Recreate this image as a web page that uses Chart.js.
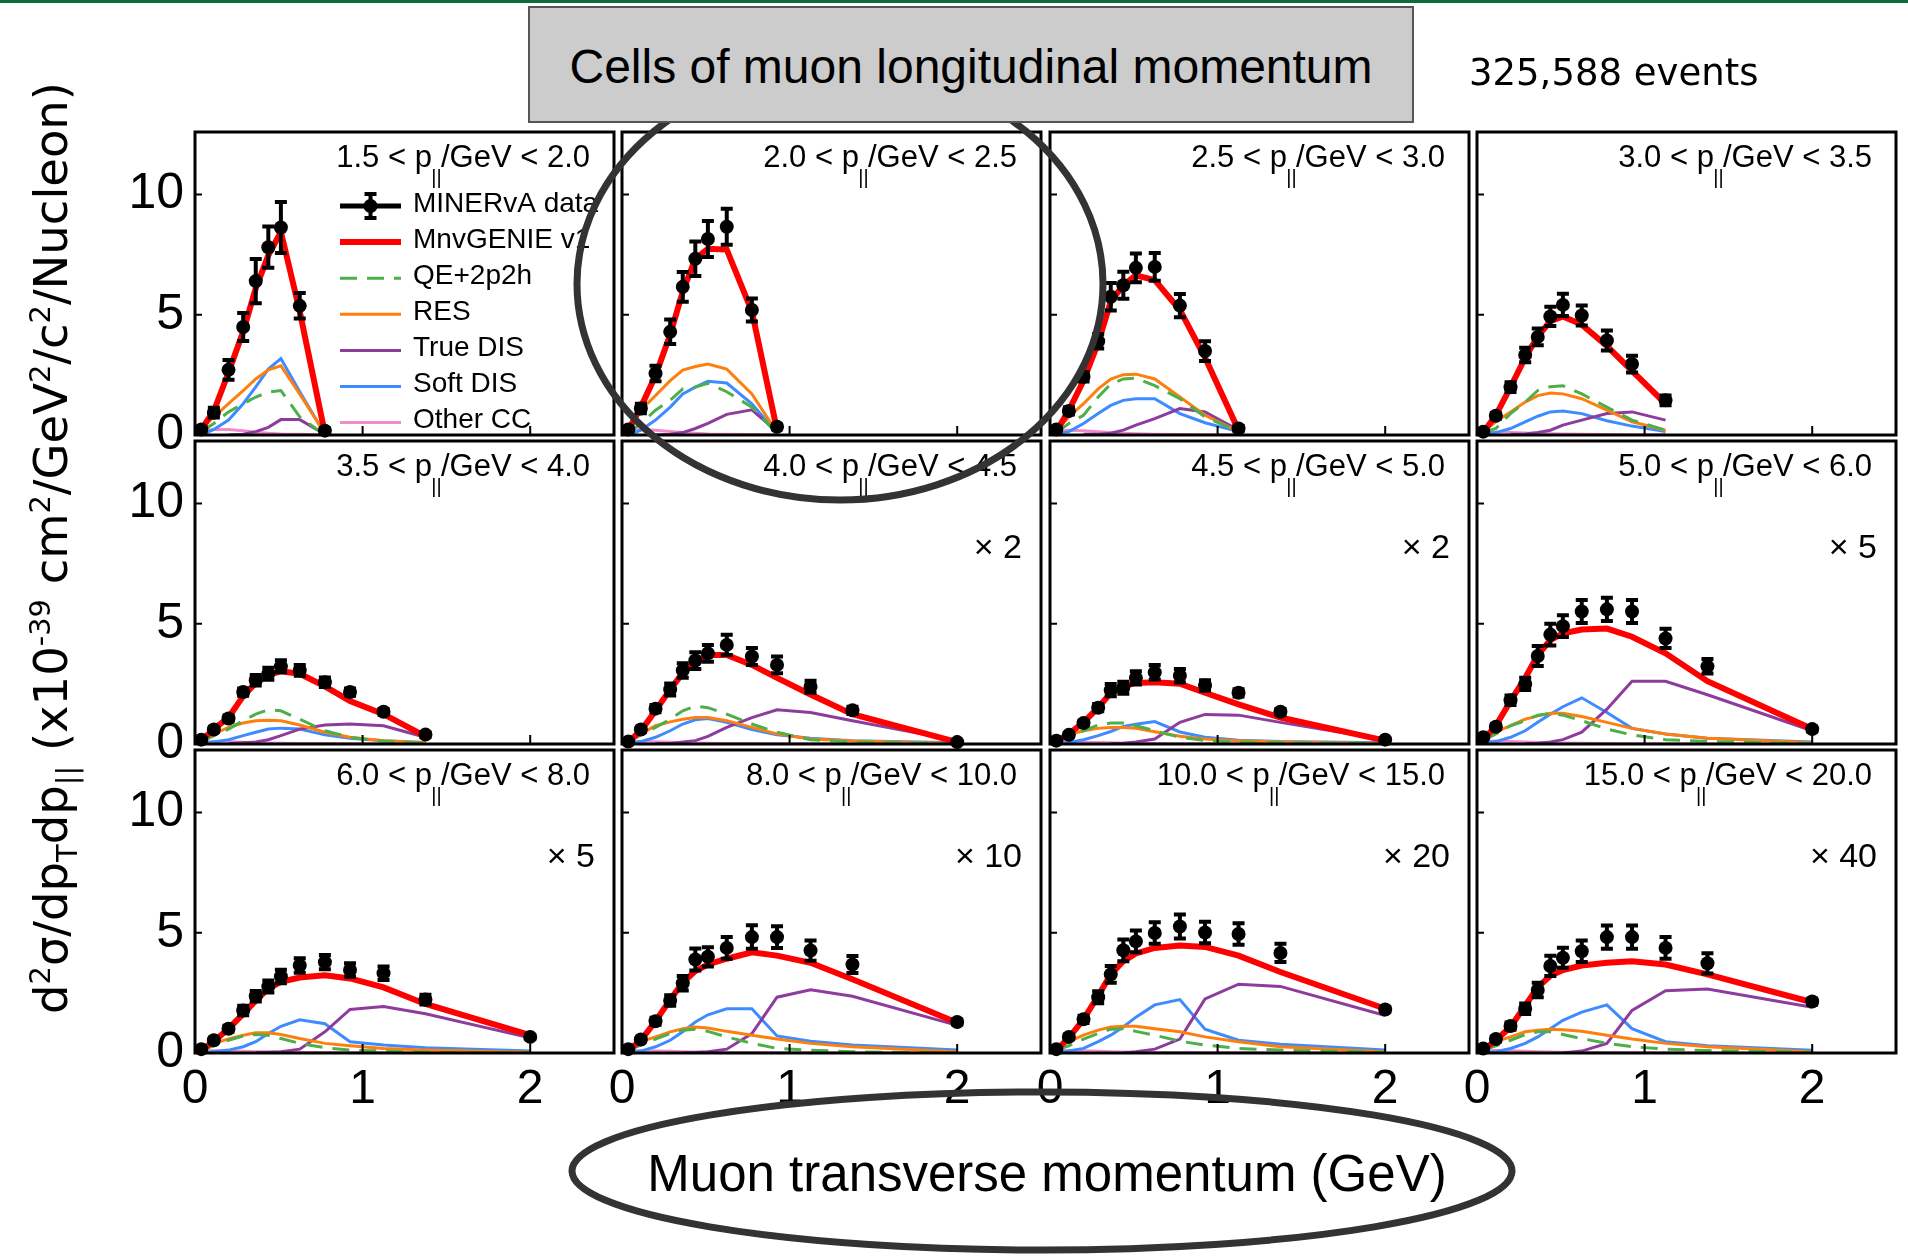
<!DOCTYPE html>
<html>
<head>
<meta charset="utf-8">
<title>MINERvA cross section in cells of muon longitudinal momentum</title>
<script src="https://cdn.jsdelivr.net/npm/chart.js@4.4.1/dist/chart.umd.min.js"></script>
<style>
  html, body { margin: 0; padding: 0; background: #fff; }
  body { width: 1908px; height: 1256px; position: relative; overflow: hidden; }
  #topline { position: absolute; left: 0; top: 0; width: 1908px; height: 3px; background: #0d6b3c; }
  canvas.panel { position: absolute; z-index: 1; }
  #rings { position: absolute; left: 0; top: 0; z-index: 2; }
  #titlebox { position: absolute; left: 528px; top: 6px; width: 882px; height: 113px;
              background: #cccccc; border: 2px solid #555; z-index: 3; }
  #titlebox div { position: absolute; left: 0; top: 35px; width: 100%; text-align: center;
                  font: 48px/48px "Liberation Sans", Arial, sans-serif; color: #000; }
  #events { position: absolute; left: 1469px; top: 54px; z-index: 3;
            font: 37px/37px "DejaVu Sans", sans-serif; color: #000; white-space: nowrap; }
  #xtitle { position: absolute; left: 1047px; top: 1148px; transform: translateX(-50%); z-index: 3;
            font: 51px/51px "Liberation Sans", Arial, sans-serif; color: #000; white-space: nowrap; }
  #ytitle { position: absolute; left: 0; top: 0; transform-origin: 0 0; z-index: 3;
            font: 46.5px/46.5px "DejaVu Sans", sans-serif; color: #000; white-space: nowrap; }
  #ytitle sup { font-size: 0.62em; vertical-align: 0.6em; line-height: 0; }
  #ytitle sub { font-size: 0.62em; vertical-align: -0.35em; line-height: 0; }
</style>
</head>
<body>
<div id="topline"></div>
<svg id="rings" width="1908" height="1256">
  <ellipse cx="840" cy="284" rx="263" ry="216" fill="none" stroke="#333" stroke-width="7"/>
  <ellipse cx="1042" cy="1171" rx="470" ry="79" fill="none" stroke="#333" stroke-width="7"/>
</svg>
<div id="titlebox"><div>Cells of muon longitudinal momentum</div></div>
<div id="events">325,588 events</div>
<div id="xtitle">Muon transverse momentum (GeV)</div>
<div id="ytitle">d<sup>2</sup>σ/dp<sub>T</sub>dp<sub>||</sub> (x10<sup>-39</sup> cm<sup>2</sup>/GeV<sup>2</sup>/c<sup>2</sup>/Nucleon)</div>

<script>
// muon pT bin centres (GeV), shared by every cell
const xCenters = [0.0375, 0.1125, 0.2, 0.2875, 0.3625, 0.4375, 0.5125, 0.625, 0.775, 0.925, 1.125, 1.375, 2.0];

// p|| cell edges and the factor each cell is scaled by
const pLow  = ["1.5", "2.0", "2.5", "3.0", "3.5", "4.0", "4.5", "5.0", "6.0", "8.0", "10.0", "15.0"];
const pHigh = ["2.0", "2.5", "3.0", "3.5", "4.0", "4.5", "5.0", "6.0", "8.0", "10.0", "15.0", "20.0"];
const scaleFactor = [null, null, null, null, null, 2, 2, 5, 5, 10, 20, 40];

const xTicks = [0, 1, 2];
const yTicks = [0, 5, 10];

const seriesNames = ["MINERvA data", "MnvGENIE v1", "QE+2p2h", "RES", "True DIS", "Soft DIS", "Other CC"];

// measured cross section and its errors, one row per cell
const dataVals = [
  [0.23, 0.93, 2.71, 4.49, 6.4, 7.81, 8.63, 5.37, 0.18],
  [0.23, 1.1, 2.56, 4.29, 6.16, 7.33, 8.15, 8.66, 5.2, 0.34],
  [0.23, 1.0, 2.42, 3.9, 5.75, 6.23, 6.95, 6.99, 5.38, 3.49, 0.27],
  [0.14, 0.8, 1.99, 3.33, 4.08, 4.93, 5.41, 4.97, 3.93, 2.95, 1.44],
  [0.18, 0.6, 1.06, 2.16, 2.65, 2.92, 3.23, 3.06, 2.57, 2.16, 1.34, 0.39],
  [0.1, 0.6, 1.47, 2.27, 3.06, 3.47, 3.77, 4.12, 3.64, 3.29, 2.38, 1.4, 0.08],
  [0.14, 0.38, 0.87, 1.51, 2.24, 2.34, 2.75, 2.98, 2.84, 2.43, 2.13, 1.34, 0.18],
  [0.28, 0.72, 1.82, 2.5, 3.66, 4.55, 4.9, 5.51, 5.6, 5.51, 4.39, 3.23, 0.62],
  [0.16, 0.53, 1.01, 1.77, 2.36, 2.77, 3.18, 3.64, 3.78, 3.45, 3.32, 2.22, 0.67],
  [0.16, 0.56, 1.32, 2.18, 2.9, 3.89, 4.0, 4.37, 4.82, 4.82, 4.26, 3.68, 1.29],
  [0.16, 0.67, 1.4, 2.32, 3.27, 4.27, 4.64, 4.99, 5.26, 5.01, 4.95, 4.16, 1.81],
  [0.19, 0.58, 1.12, 1.84, 2.62, 3.62, 3.96, 4.23, 4.82, 4.82, 4.37, 3.73, 2.14]
];
const dataErr = [
  [0.1, 0.2, 0.41, 0.58, 0.92, 0.86, 1.06, 0.53, 0.1],
  [0.1, 0.2, 0.32, 0.51, 0.62, 0.72, 0.75, 0.75, 0.48, 0.1],
  [0.1, 0.15, 0.2, 0.3, 0.57, 0.56, 0.6, 0.58, 0.48, 0.41, 0.1],
  [0.08, 0.12, 0.2, 0.3, 0.35, 0.4, 0.46, 0.42, 0.42, 0.35, 0.2],
  [0.06, 0.1, 0.12, 0.15, 0.22, 0.25, 0.25, 0.22, 0.2, 0.15, 0.12, 0.1],
  [0.05, 0.1, 0.15, 0.25, 0.3, 0.35, 0.35, 0.42, 0.35, 0.35, 0.25, 0.15, 0.05],
  [0.05, 0.08, 0.1, 0.15, 0.25, 0.25, 0.28, 0.3, 0.28, 0.22, 0.15, 0.12, 0.05],
  [0.08, 0.1, 0.2, 0.25, 0.42, 0.45, 0.45, 0.48, 0.48, 0.48, 0.4, 0.3, 0.1],
  [0.05, 0.08, 0.12, 0.2, 0.22, 0.25, 0.28, 0.3, 0.3, 0.28, 0.28, 0.2, 0.08],
  [0.05, 0.08, 0.15, 0.22, 0.3, 0.46, 0.4, 0.45, 0.49, 0.45, 0.42, 0.35, 0.1],
  [0.05, 0.1, 0.15, 0.25, 0.35, 0.45, 0.45, 0.45, 0.5, 0.45, 0.45, 0.38, 0.1],
  [0.05, 0.1, 0.15, 0.22, 0.3, 0.42, 0.42, 0.45, 0.48, 0.48, 0.45, 0.42, 0.12]
];

// MnvGENIE v1 total and its pieces
const totalVals = [
  [0.23, 1.0, 2.6, 4.3, 6.1, 7.47, 8.45, 5.14, 0.07],
  [0.2, 1.16, 2.47, 4.18, 5.96, 7.33, 7.74, 7.71, 5.14, 0.2],
  [0.14, 1.03, 2.26, 3.84, 5.55, 6.23, 6.64, 6.44, 5.2, 3.22, 0.2],
  [0.1, 0.82, 1.99, 3.22, 4.1, 4.73, 4.93, 4.59, 3.7, 2.67, 1.3],
  [0.14, 0.62, 1.1, 1.99, 2.54, 2.88, 3.02, 2.92, 2.4, 1.79, 1.24, 0.32],
  [0.08, 0.55, 1.38, 2.27, 2.95, 3.43, 3.7, 3.7, 3.29, 2.75, 2.06, 1.24, 0.08],
  [0.1, 0.42, 0.9, 1.51, 2.13, 2.4, 2.54, 2.57, 2.51, 2.13, 1.65, 1.1, 0.14],
  [0.18, 0.76, 1.79, 2.75, 3.7, 4.32, 4.6, 4.76, 4.8, 4.46, 3.77, 2.61, 0.62],
  [0.12, 0.49, 1.01, 1.63, 2.18, 2.68, 2.96, 3.14, 3.23, 3.1, 2.73, 2.04, 0.74],
  [0.12, 0.53, 1.32, 2.22, 2.93, 3.41, 3.68, 3.92, 4.19, 4.05, 3.75, 3.07, 1.26],
  [0.12, 0.63, 1.4, 2.38, 3.27, 3.82, 4.14, 4.37, 4.47, 4.41, 4.05, 3.37, 1.84],
  [0.12, 0.53, 1.08, 1.97, 2.73, 3.21, 3.45, 3.64, 3.75, 3.81, 3.68, 3.27, 2.11]
];
const qeVals = [
  [0.14, 0.48, 0.96, 1.3, 1.58, 1.78, 1.85, 0.75, 0.0],
  [0.07, 0.48, 1.03, 1.44, 1.92, 1.99, 2.15, 1.8, 1.16, 0.07],
  [0.1, 0.48, 0.82, 1.58, 2.12, 2.33, 2.37, 2.05, 1.51, 0.75, 0.14],
  [0.1, 0.27, 0.89, 1.37, 1.85, 2.01, 2.05, 1.71, 1.16, 0.62, 0.2],
  [0.1, 0.35, 0.62, 0.97, 1.24, 1.42, 1.38, 1.03, 0.55, 0.28, 0.1, 0.03],
  [0.1, 0.38, 0.69, 1.03, 1.38, 1.58, 1.51, 1.24, 0.83, 0.49, 0.18, 0.08, 0.02],
  [0.1, 0.28, 0.55, 0.79, 0.87, 0.87, 0.76, 0.55, 0.28, 0.14, 0.08, 0.05, 0.02],
  [0.14, 0.42, 0.76, 0.97, 1.2, 1.27, 1.2, 0.97, 0.62, 0.38, 0.18, 0.1, 0.02],
  [0.12, 0.3, 0.53, 0.71, 0.77, 0.74, 0.6, 0.4, 0.22, 0.12, 0.08, 0.03, 0.0],
  [0.12, 0.33, 0.58, 0.81, 0.95, 0.99, 0.9, 0.67, 0.4, 0.19, 0.12, 0.05, 0.0],
  [0.12, 0.3, 0.58, 0.81, 0.99, 1.01, 0.9, 0.74, 0.49, 0.33, 0.19, 0.12, 0.03],
  [0.12, 0.3, 0.53, 0.77, 0.88, 0.88, 0.77, 0.6, 0.4, 0.26, 0.16, 0.1, 0.03]
];
const resVals = [
  [0.27, 0.75, 1.3, 1.85, 2.33, 2.71, 2.88, 1.7, 0.07],
  [0.27, 1.03, 1.64, 2.26, 2.7, 2.85, 2.95, 2.74, 1.71, 0.1],
  [0.2, 0.75, 1.3, 1.92, 2.33, 2.51, 2.53, 2.33, 1.58, 0.82, 0.14],
  [0.14, 0.55, 0.96, 1.37, 1.64, 1.75, 1.71, 1.51, 1.03, 0.55, 0.2],
  [0.18, 0.42, 0.69, 0.87, 0.97, 0.99, 0.97, 0.79, 0.49, 0.28, 0.14, 0.05],
  [0.18, 0.42, 0.76, 0.92, 1.03, 1.1, 1.1, 0.97, 0.69, 0.42, 0.21, 0.12, 0.02],
  [0.18, 0.38, 0.55, 0.65, 0.69, 0.69, 0.65, 0.51, 0.32, 0.21, 0.13, 0.08, 0.02],
  [0.21, 0.49, 0.76, 1.03, 1.17, 1.28, 1.28, 1.14, 0.9, 0.65, 0.42, 0.24, 0.05],
  [0.16, 0.4, 0.58, 0.74, 0.84, 0.84, 0.77, 0.6, 0.4, 0.3, 0.19, 0.12, 0.03],
  [0.22, 0.47, 0.67, 0.88, 1.01, 1.08, 1.04, 0.9, 0.74, 0.58, 0.4, 0.26, 0.05],
  [0.19, 0.47, 0.74, 0.95, 1.08, 1.11, 1.11, 1.01, 0.88, 0.67, 0.47, 0.26, 0.05],
  [0.22, 0.47, 0.67, 0.88, 0.95, 0.99, 0.97, 0.9, 0.74, 0.58, 0.4, 0.26, 0.05]
];
const trueDisVals = [
  [null, null, 0.0, 0.03, 0.14, 0.32, 0.64, 0.64, 0.03],
  [null, null, 0.0, 0.03, 0.1, 0.27, 0.48, 0.86, 1.05, 0.14],
  [null, null, 0.03, 0.03, 0.07, 0.2, 0.41, 0.68, 1.1, 0.96, 0.2],
  [null, null, 0.03, 0.04, 0.1, 0.2, 0.41, 0.62, 0.89, 0.96, 0.62],
  [null, null, 0.02, 0.05, 0.08, 0.18, 0.35, 0.62, 0.79, 0.83, 0.76, 0.28],
  [null, null, 0.02, 0.02, 0.08, 0.14, 0.32, 0.69, 1.1, 1.42, 1.31, 0.97, 0.14],
  [null, null, null, null, 0.02, 0.03, 0.08, 0.21, 0.9, 1.23, 1.2, 0.9, 0.18],
  [null, null, null, 0.02, 0.03, 0.08, 0.18, 0.49, 1.45, 2.61, 2.61, 2.05, 0.55],
  [null, null, null, null, 0.02, 0.03, 0.05, 0.16, 0.88, 1.81, 1.93, 1.63, 0.63],
  [null, null, null, null, 0.0, 0.02, 0.05, 0.16, 0.81, 2.32, 2.63, 2.36, 1.15],
  [null, null, null, null, null, 0.0, 0.05, 0.16, 0.58, 2.25, 2.86, 2.77, 1.56],
  [null, null, null, null, null, null, 0.0, 0.08, 0.4, 1.77, 2.59, 2.66, 1.9]
];
const softDisVals = [
  [0.0, 0.23, 0.62, 1.3, 2.0, 2.74, 3.18, 1.8, 0.03],
  [0.0, 0.2, 0.62, 1.16, 1.71, 1.99, 2.23, 2.16, 1.3, 0.07],
  [0.04, 0.14, 0.48, 0.89, 1.23, 1.44, 1.51, 1.51, 0.89, 0.51, 0.14],
  [0.04, 0.1, 0.27, 0.55, 0.78, 0.96, 1.0, 0.89, 0.59, 0.37, 0.14],
  [0.02, 0.08, 0.18, 0.35, 0.49, 0.62, 0.66, 0.62, 0.38, 0.24, 0.14, 0.06],
  [0.02, 0.1, 0.28, 0.55, 0.83, 1.01, 1.06, 0.9, 0.6, 0.38, 0.24, 0.14, 0.05],
  [0.02, 0.06, 0.18, 0.35, 0.52, 0.73, 0.82, 0.93, 0.5, 0.28, 0.16, 0.1, 0.05],
  [0.02, 0.1, 0.28, 0.55, 0.9, 1.24, 1.55, 1.92, 1.31, 0.65, 0.42, 0.24, 0.08],
  [0.01, 0.05, 0.12, 0.26, 0.47, 0.81, 1.11, 1.38, 1.22, 0.47, 0.33, 0.22, 0.08],
  [0.01, 0.08, 0.26, 0.53, 0.88, 1.29, 1.59, 1.84, 1.84, 0.71, 0.49, 0.33, 0.12],
  [0.01, 0.08, 0.19, 0.47, 0.74, 1.08, 1.49, 2.0, 2.22, 0.99, 0.53, 0.36, 0.12],
  [0.01, 0.05, 0.19, 0.4, 0.67, 1.01, 1.36, 1.7, 2.0, 1.01, 0.47, 0.3, 0.11]
];
const otherVals = [
  [0.18, 0.23, 0.23, 0.18, 0.11, 0.07, 0.04, 0.03, 0.0],
  [0.18, 0.23, 0.2, 0.15, 0.1, 0.07, 0.04, 0.03, 0.02, 0.01],
  [0.15, 0.2, 0.18, 0.14, 0.1, 0.07, 0.05, 0.03, 0.02, 0.01, 0.0],
  [0.1, 0.12, 0.1, 0.08, 0.06, 0.05, 0.04, 0.03, 0.02, 0.01, 0.01],
  [0.08, 0.1, 0.09, 0.07, 0.05, 0.04, 0.03, 0.02, 0.02, 0.01, 0.01, 0.0],
  [0.08, 0.1, 0.09, 0.07, 0.05, 0.04, 0.03, 0.02, 0.02, 0.01, 0.01, 0.0, 0.0],
  [0.07, 0.08, 0.07, 0.06, 0.05, 0.04, 0.03, 0.02, 0.01, 0.01, 0.01, 0.0, 0.0],
  [0.1, 0.12, 0.1, 0.08, 0.06, 0.05, 0.04, 0.03, 0.02, 0.01, 0.01, 0.0, 0.0],
  [0.08, 0.09, 0.08, 0.07, 0.05, 0.04, 0.03, 0.02, 0.02, 0.01, 0.01, 0.0, 0.0],
  [0.08, 0.09, 0.08, 0.07, 0.05, 0.04, 0.03, 0.02, 0.02, 0.01, 0.01, 0.0, 0.0],
  [0.08, 0.1, 0.09, 0.07, 0.05, 0.04, 0.03, 0.02, 0.02, 0.01, 0.01, 0.0, 0.0],
  [0.08, 0.1, 0.09, 0.07, 0.05, 0.04, 0.03, 0.02, 0.02, 0.01, 0.01, 0.0, 0.0]
];

// line style for each series, same order as seriesNames
const lineColors = ["#000000", "#ff0000", "#4daf4a", "#ff7f0e", "#8e3b9e", "#3d8bff", "#f08ac8"];
const lineWidths = [0, 6, 3, 3, 3, 3, 3];

// grid of cells on the page
const colLeft = [195, 622, 1049.5, 1477];
const rowTop = [128, 437, 746];
const cellW = 423, cellH = 307;
const padL = 90, padB = 75, padT = 3, padR = 3;

const FONT = '"Liberation Sans", Arial, sans-serif';

function points(vals) {
  return vals.map((v, i) => ({ x: xCenters[i], y: v }));
}

// vertical error bar with flat caps
function errorBar(ctx, px, top, bot) {
  ctx.lineWidth = 4;
  ctx.beginPath();
  ctx.moveTo(px, top); ctx.lineTo(px, bot);
  ctx.stroke();
  ctx.lineWidth = 4;
  ctx.beginPath();
  ctx.moveTo(px - 6, top); ctx.lineTo(px + 6, top);
  ctx.moveTo(px - 6, bot); ctx.lineTo(px + 6, bot);
  ctx.stroke();
}

// error bars, frame, inward ticks, cell label, scale factor and legend
const cellDecor = {
  id: "cellDecor",
  afterDatasetsDraw(chart) {
    const ds = chart.data.datasets[0];
    const xs = chart.scales.x, ys = chart.scales.y;
    const ctx = chart.ctx;
    ctx.save();
    ctx.strokeStyle = "#000";
    ds.data.forEach((p, i) => {
      const e = ds.errors[i];
      const px = xs.getPixelForValue(p.x);
      const top = ys.getPixelForValue(p.y + e);
      const bot = ys.getPixelForValue(Math.max(p.y - e, 0));
      errorBar(ctx, px, top, bot);
    });
    ctx.restore();
  },
  afterDraw(chart, args, opts) {
    const ctx = chart.ctx, a = chart.chartArea;
    const xs = chart.scales.x, ys = chart.scales.y;
    ctx.save();

    ctx.strokeStyle = "#000";
    ctx.lineWidth = 3;
    ctx.strokeRect(a.left, a.top, a.right - a.left, a.bottom - a.top);

    ctx.lineWidth = 2;
    ctx.beginPath();
    yTicks.forEach(v => {
      if (v === 0) return;
      const py = ys.getPixelForValue(v);
      ctx.moveTo(a.left, py); ctx.lineTo(a.left + 7, py);
    });
    xTicks.forEach(v => {
      if (v === 0) return;
      const px = xs.getPixelForValue(v);
      ctx.moveTo(px, a.bottom); ctx.lineTo(px, a.bottom - 9);
    });
    ctx.stroke();

    // "lo < p||/GeV < hi"
    ctx.fillStyle = "#000";
    ctx.textBaseline = "alphabetic";
    ctx.font = "31px " + FONT;
    const rightPart = "/GeV < " + opts.hi;
    const xEnd = a.right - 24, yb = a.top + 35;
    const wR = ctx.measureText(rightPart).width;
    ctx.textAlign = "left";
    ctx.fillText(rightPart, xEnd - wR, yb);
    ctx.textAlign = "right";
    ctx.fillText(opts.lo + " < p", xEnd - wR - 9, yb);
    ctx.font = "20px " + FONT;
    ctx.textAlign = "center";
    ctx.fillText("||", xEnd - wR - 4.5, yb + 17);

    if (opts.mult) {
      ctx.font = "34px " + FONT;
      ctx.textAlign = "right";
      ctx.fillText("\u00d7 " + opts.mult, a.right - 19, a.top + 117);
    }

    if (opts.legend) {
      const x1 = a.left + 145, x2 = a.left + 206;
      chart.data.datasets.forEach((d, i) => {
        const y = a.top + 74 + 36.1 * i;
        ctx.setLineDash([]);
        if (i === 0) {
          const xm = (x1 + x2) / 2;
          ctx.strokeStyle = "#000";
          ctx.lineWidth = 5;
          ctx.beginPath(); ctx.moveTo(x1, y); ctx.lineTo(x2, y); ctx.stroke();
          errorBar(ctx, xm, y - 12, y + 12);
          ctx.fillStyle = "#000";
          ctx.beginPath(); ctx.arc(xm, y, 7, 0, Math.PI * 2); ctx.fill();
        } else {
          ctx.strokeStyle = d.borderColor;
          ctx.lineWidth = d.borderWidth;
          ctx.setLineDash(d.borderDash || []);
          ctx.beginPath(); ctx.moveTo(x1, y); ctx.lineTo(x2, y); ctx.stroke();
        }
        ctx.setLineDash([]);
        ctx.fillStyle = "#000";
        ctx.font = "28px " + FONT;
        ctx.textAlign = "left";
        ctx.textBaseline = "middle";
        ctx.fillText(d.label, a.left + 218, y - 2);
      });
    }
    ctx.restore();
  }
};

function makeCell(k) {
  const row = Math.floor(k / 4), col = k % 4;
  const canvas = document.createElement("canvas");
  canvas.className = "panel";
  canvas.width = padL + cellW + padR;
  canvas.height = padT + cellH + padB;
  canvas.style.left = (colLeft[col] - padL) + "px";
  canvas.style.top = (rowTop[row] - padT) + "px";
  document.body.appendChild(canvas);

  const seriesVals = [dataVals[k], totalVals[k], qeVals[k], resVals[k], trueDisVals[k], softDisVals[k], otherVals[k]];
  const datasets = seriesVals.map((vals, s) => {
    if (s === 0) {
      return {
        label: seriesNames[0],
        data: points(vals),
        errors: dataErr[k],
        showLine: false,
        pointRadius: 7,
        pointBackgroundColor: "#000",
        pointBorderWidth: 0,
        clip: 10
      };
    }
    return {
      label: seriesNames[s],
      data: points(vals),
      borderColor: lineColors[s],
      borderWidth: lineWidths[s],
      borderDash: s === 2 ? [17, 10] : [],
      pointRadius: 0,
      tension: 0,
      fill: false
    };
  });

  new Chart(canvas, {
    type: "line",
    data: { datasets: datasets },
    options: {
      responsive: false,
      animation: false,
      devicePixelRatio: 1,
      events: [],
      layout: { padding: { top: padT, right: padR, left: 0, bottom: 0 } },
      scales: {
        x: {
          type: "linear",
          min: 0,
          max: 2.5,
          afterBuildTicks: axis => { axis.ticks = xTicks.map(v => ({ value: v })); },
          afterFit: axis => {
            axis.height = padB;
            axis.paddingLeft = 0;
            axis.paddingRight = 0;
          },
          grid: { display: false, drawTicks: false },
          border: { display: false },
          ticks: {
            color: row === 2 ? "#000" : "rgba(0,0,0,0)",
            font: { family: FONT, size: 48 },
            padding: 8,
            maxRotation: 0,
            autoSkip: false
          }
        },
        y: {
          type: "linear",
          min: 0,
          max: 12.6,
          afterBuildTicks: axis => { axis.ticks = yTicks.map(v => ({ value: v })); },
          afterFit: axis => {
            axis.width = padL;
            axis.paddingTop = 0;
            axis.paddingBottom = 0;
          },
          grid: { display: false, drawTicks: false },
          border: { display: false },
          ticks: {
            color: col === 0 ? "#000" : "rgba(0,0,0,0)",
            font: { family: FONT, size: 50 },
            padding: 11,
            autoSkip: false
          }
        }
      },
      plugins: {
        legend: { display: false },
        tooltip: { enabled: false },
        cellDecor: { lo: pLow[k], hi: pHigh[k], mult: scaleFactor[k], legend: k === 0 }
      }
    },
    plugins: [cellDecor]
  });
}

for (let k = 0; k < 12; k++) makeCell(k);

// rotated y title, baseline near x = 68, centred on the grid
const yt = document.getElementById("ytitle");
const w = yt.offsetWidth;
yt.style.transform = "translate(28px, " + (548 + w / 2) + "px) rotate(-90deg)";
</script>
</body>
</html>
